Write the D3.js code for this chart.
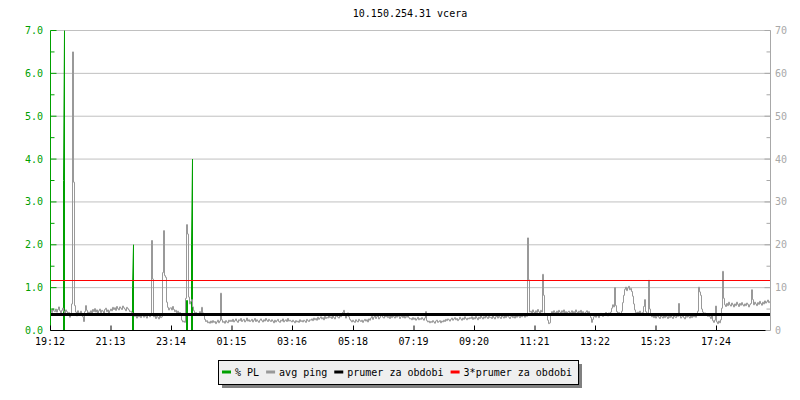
<!DOCTYPE html>
<html><head><meta charset="utf-8">
<script src="https://cdn.jsdelivr.net/npm/d3@7"></script>
<style>
body{margin:0;background:#fff}
svg{display:block}
text{font-family:"DejaVu Sans Mono","Liberation Mono",monospace;font-size:10px}
</style>
</head><body>
<svg id="chart" width="800" height="400"></svg>
<script>
// ---------- data ----------
const chartTitle = "10.150.254.31 vcera";
const startTime = "19:12";           // first sample
const spanMinutes = 1440;            // 24 h window
const sampleStepMin = 2;             // one ping sample every 2 minutes
// avg ping (ms) — right axis
const pingValues = [
4.8,4.2,5.1,4.6,4.4,5.0,4.3,4.9,5.5,4.6,4.1,4.7,5.2,4.5,3.9,4.8,4.4,3.6,4.2,3.1,
4.0,6.2,65.0,34.6,5.8,4.3,3.4,4.6,4.1,3.8,4.5,4.0,3.2,2.1,4.4,5.8,4.7,3.9,4.3,4.1,
4.6,3.7,4.9,4.4,5.1,4.3,4.8,3.9,4.6,5.0,4.2,4.7,4.5,3.8,4.9,5.2,4.4,4.8,4.1,4.6,
5.0,4.6,5.4,4.9,5.3,4.7,5.6,5.1,4.8,5.5,5.2,4.9,5.7,5.3,5.0,4.6,5.4,5.1,4.8,4.4,
4.5,4.2,3.6,4.0,3.3,3.8,2.9,3.5,3.2,3.7,3.0,3.4,3.9,3.1,3.6,3.3,2.9,3.5,3.8,3.2,
3.5,21.0,12.0,3.2,3.6,2.8,3.3,3.1,2.7,3.5,3.0,3.2,13.5,23.3,12.8,12.4,6.6,5.4,4.8,5.2,
5.3,4.8,5.6,4.9,4.4,4.7,4.1,4.5,3.8,4.2,3.6,2.4,2.0,2.2,1.9,7.5,24.7,22.5,7.8,6.2,
6.8,7.2,5.5,4.6,3.9,4.2,3.6,4.0,3.8,4.4,3.9,5.4,4.1,3.5,2.6,2.1,2.3,1.8,2.0,1.7,
2.2,1.8,2.3,1.9,2.1,1.6,2.0,2.4,1.8,2.2,8.7,2.5,1.9,2.1,1.7,2.3,2.0,1.8,2.4,2.1,
2.4,2.1,2.6,2.0,2.3,2.7,2.2,1.9,2.5,2.3,2.8,2.1,2.4,2.6,2.0,2.3,2.9,2.2,2.5,2.1,
2.3,2.6,2.0,2.4,2.8,2.1,2.5,2.2,1.9,2.4,2.7,2.3,2.0,2.5,2.2,2.8,2.4,2.1,2.6,2.3,
2.1,2.5,2.2,1.8,2.4,2.0,2.3,2.6,2.1,1.9,2.4,2.2,2.7,2.0,2.3,2.5,2.1,2.8,2.2,2.4,
2.2,2.0,2.4,2.1,1.8,2.3,2.0,2.2,1.9,2.5,2.1,2.3,2.0,2.4,2.2,1.9,2.6,2.3,2.1,2.5,
2.4,2.7,2.3,2.9,2.5,2.8,2.4,3.1,2.6,2.9,3.2,2.7,3.0,2.5,3.3,2.8,3.1,2.9,3.4,3.0,
3.2,2.8,3.5,3.0,2.7,3.3,3.6,3.1,2.9,3.4,3.2,3.8,4.2,4.7,3.6,2.9,3.4,4.1,3.2,2.6,
2.3,2.0,2.4,2.1,1.9,2.5,2.2,2.0,2.6,2.3,2.1,2.4,1.9,2.3,2.6,2.2,2.5,2.0,2.7,2.4,
2.9,3.3,2.6,3.1,3.6,2.8,3.2,3.5,2.7,3.0,3.4,3.8,3.1,2.9,3.5,3.2,3.7,3.0,3.3,2.8,
3.4,3.0,3.6,3.2,2.9,3.5,3.1,3.7,3.3,2.8,3.2,3.6,3.0,3.4,2.9,3.3,3.1,3.5,3.0,2.7,
2.8,2.5,3.0,2.6,2.9,2.4,2.7,3.1,2.5,2.8,2.6,3.0,2.7,2.4,2.9,4.4,2.3,2.0,2.2,1.8,
2.1,1.9,2.3,2.0,1.7,2.2,2.4,1.9,2.1,2.3,1.8,2.2,2.0,2.4,2.1,2.6,2.3,2.7,2.5,2.2,
2.6,2.9,2.4,2.7,3.0,2.5,2.8,2.3,2.6,3.1,2.7,2.4,2.9,2.6,3.2,2.8,2.5,2.9,2.7,3.0,
2.8,3.2,2.6,3.0,2.7,3.3,2.9,2.5,3.1,2.8,3.4,3.0,2.7,3.2,2.9,3.5,3.1,2.8,3.3,3.0,
3.1,2.8,3.4,3.0,2.7,3.2,3.5,2.9,3.3,3.1,2.8,3.6,3.2,2.9,3.4,3.0,3.7,3.3,3.1,2.8,
3.2,3.5,3.0,3.3,2.9,3.4,3.1,3.6,3.3,3.0,3.5,3.2,3.8,3.4,3.1,3.6,3.3,21.6,11.8,4.3,
4.5,4.1,4.8,4.3,3.9,4.6,4.2,4.9,4.4,4.0,4.7,4.3,13.1,8.2,4.0,3.6,3.9,2.4,1.6,1.8,
3.9,4.4,4.0,4.6,4.2,3.8,4.5,4.1,4.7,4.3,3.9,4.6,4.2,4.8,4.0,4.4,3.7,4.3,4.5,4.1,
4.2,4.6,3.9,4.4,4.1,4.8,4.3,3.8,4.5,4.2,4.7,4.0,4.4,4.1,3.7,4.3,4.6,4.0,4.4,3.9,
3.0,1.9,2.6,3.2,3.5,3.1,3.8,3.4,3.0,3.6,4.0,3.7,3.3,3.9,3.5,4.2,3.8,3.4,4.1,3.7,
4.3,5.2,6.0,5.5,10.0,5.8,4.4,3.9,4.2,3.7,4.0,4.5,6.5,8.2,9.6,10.1,9.3,9.9,10.3,9.5,
9.8,9.1,8.0,6.2,4.8,4.2,3.7,4.3,3.9,4.5,4.1,3.8,4.2,5.6,7.2,4.4,3.9,4.1,11.7,5.0,
3.6,3.2,3.8,3.0,3.4,2.9,3.3,3.7,3.1,2.8,3.5,3.2,2.9,3.4,3.0,3.6,3.2,2.8,3.3,3.0,
3.4,3.1,2.8,3.5,3.2,3.0,3.6,3.3,6.3,3.4,2.9,3.2,3.5,3.0,2.7,3.3,3.1,3.6,3.2,2.9,
3.4,3.0,3.6,3.2,3.5,3.1,3.8,4.5,10.1,9.0,8.2,5.0,4.3,3.8,4.1,3.6,3.9,3.3,3.7,3.2,
2.8,3.4,2.3,1.9,2.4,5.7,2.0,1.6,2.2,1.8,2.5,5.2,13.8,7.5,6.0,5.6,6.3,5.8,6.6,6.0,
5.7,6.4,6.0,5.5,6.2,5.8,6.6,6.1,5.6,6.3,5.9,6.5,6.0,5.7,6.2,5.8,6.4,6.1,5.5,6.0,
6.3,9.5,7.2,6.0,6.6,6.2,5.8,6.5,6.1,6.8,6.3,5.9,6.6,6.2,6.9,6.4,6.7,7.1,6.5,6.8
];
// % packet loss (left axis) — non-zero samples only
const plTimes  = ["19:38","19:40","21:56","21:58","23:44","23:46","23:54","23:56"];
const plValues = [3.5, 7.0, 1.0, 2.0, 0.7, 0.7, 2.0, 4.0];
const avgPing = 3.73;        // prumer za obdobi (ms)
const tripleAvgPing = 11.65; // 3*prumer za obdobi (ms)
const leftTicks = [0,1,2,3,4,5,6,7];
const leftMinorTicks = [0.5,1.5,2.5,3.5,4.5,5.5,6.5];
const rightTicks = [0,10,20,30,40,50,60,70];
const rightMinorTicks = [5,15,25,35,45,55,65];
const timeTickLabels = ["19:12","21:13","23:14","01:15","03:16","05:18","07:19","09:20","11:21","13:22","15:23","17:24"];
const legendLabels = ["% PL","avg ping","prumer za obdobi","3*prumer za obdobi"];
const legendColors = ["#00a000","#999999","#000000","#ff0000"];

// ---------- helpers ----------
const base = new Date(2020,0,1,0,0);
const [sh, sm] = startTime.split(":").map(Number);
const startMin = sh*60+sm;
function toDate(hhmm){
  const [h,m] = hhmm.split(":").map(Number);
  let mm = h*60+m;
  if (mm < startMin) mm += 1440;
  return new Date(base.getTime() + mm*60000);
}
const t0 = toDate(startTime);
const t1 = new Date(t0.getTime() + spanMinutes*60000);

const L = 50, R = 770, T = 30, B = 330;
const svg = d3.select("#chart");
const g = svg.append("g").attr("transform","translate(0.5,0.5)");

const x = d3.scaleTime().domain([t0,t1]).range([L,R]);
const yL = d3.scaleLinear().domain([0,7]).range([B,T]);
const yR = d3.scaleLinear().domain([0,70]).range([B,T]);

const green = legendColors[0], grey = legendColors[1], axisGrey = "#a8a8a8";

// title
svg.append("text").attr("x",410).attr("y",17).attr("text-anchor","middle")
  .attr("fill","#000").text(chartTitle);

// grid
g.selectAll(".grid").data(leftTicks.filter(d=>d>0)).join("line")
  .attr("x1",L).attr("x2",R).attr("y1",d=>yL(d)).attr("y2",d=>yL(d))
  .attr("stroke","#c0c0c0").attr("stroke-width",1);

// clip
svg.append("defs").append("clipPath").attr("id","clip")
  .append("rect").attr("x",L).attr("y",T).attr("width",R-L+1).attr("height",B-T+1);
const plot = g.append("g").attr("clip-path","url(#clip)");

// % PL
const plDates = plTimes.map(toDate);
const groups = [];
plDates.forEach((d,i)=>{
  const last = groups[groups.length-1];
  if (last && d - last[last.length-1].t <= sampleStepMin*60000) last.push({t:d,v:plValues[i]});
  else groups.push([{t:d,v:plValues[i]}]);
});
const plLine = d3.line().x(d=>x(d.t)).y(d=>yL(d.v));
groups.forEach(gr=>{
  const pts = [{t:gr[0].t,v:0}, ...gr, {t:gr[gr.length-1].t,v:0}];
  plot.append("path").attr("d",plLine(pts)).attr("fill","none")
    .attr("stroke",green).attr("stroke-width",1);
});

// avg ping
const pingData = pingValues.map((v,i)=>({t:new Date(t0.getTime()+i*sampleStepMin*60000), v}));
plot.append("path")
  .attr("d", d3.line().curve(d3.curveStepAfter).x(d=>x(d.t)).y(d=>yR(d.v))(pingData))
  .attr("fill","none").attr("stroke",grey).attr("stroke-width",1);

// mean lines
const yAvg = Math.round(yR(avgPing)), yTri = Math.round(yR(tripleAvgPing));
plot.append("line").attr("x1",L).attr("x2",R).attr("y1",yAvg).attr("y2",yAvg)
  .attr("stroke","#000").attr("stroke-width",3);
plot.append("line").attr("x1",L).attr("x2",R).attr("y1",yTri).attr("y2",yTri)
  .attr("stroke","#ff0000").attr("stroke-width",1);

// left axis
g.append("line").attr("x1",L).attr("x2",L).attr("y1",T).attr("y2",B).attr("stroke",green);
g.selectAll(".lt").data(leftTicks).join("line")
  .attr("x1",L).attr("x2",L+6).attr("y1",d=>yL(d)).attr("y2",d=>yL(d)).attr("stroke",green);
g.selectAll(".lmt").data(leftMinorTicks).join("line")
  .attr("x1",L).attr("x2",L+4).attr("y1",d=>yL(d)).attr("y2",d=>yL(d)).attr("stroke",green);
svg.selectAll(".ll").data(leftTicks).join("text")
  .attr("x",43).attr("y",d=>yL(d)+4).attr("text-anchor","end").attr("fill",green)
  .text(d=>d3.format(".1f")(d));

// right axis
g.append("line").attr("x1",R).attr("x2",R).attr("y1",T).attr("y2",B).attr("stroke",axisGrey);
g.selectAll(".rt").data(rightTicks).join("line")
  .attr("x1",R-6).attr("x2",R).attr("y1",d=>yR(d)).attr("y2",d=>yR(d)).attr("stroke",axisGrey);
g.selectAll(".rmt").data(rightMinorTicks).join("line")
  .attr("x1",R-4).attr("x2",R).attr("y1",d=>yR(d)).attr("y2",d=>yR(d)).attr("stroke",axisGrey);
svg.selectAll(".rl").data(rightTicks).join("text")
  .attr("x",775).attr("y",d=>yR(d)+4).attr("fill",axisGrey).text(d=>d);

// bottom axis
g.append("line").attr("x1",L).attr("x2",R-5).attr("y1",B).attr("y2",B).attr("stroke","#000");
const tickDates = timeTickLabels.map(toDate);
g.selectAll(".xt").data(tickDates).join("line")
  .attr("x1",d=>x(d)).attr("x2",d=>x(d)).attr("y1",B-5).attr("y2",B).attr("stroke","#000");
svg.selectAll(".xl").data(timeTickLabels).join("text")
  .attr("x",d=>x(toDate(d))).attr("y",345).attr("text-anchor","middle").attr("fill","#000")
  .text(d=>d);

// legend
const lg = svg.append("g");
const box = {x:218, y:360, w:360, h:24};
lg.append("rect").attr("x",box.x+4).attr("y",box.y+4).attr("width",box.w).attr("height",box.h).attr("fill","#808080");
lg.append("rect").attr("x",box.x+0.5).attr("y",box.y+0.5).attr("width",box.w).attr("height",box.h)
  .attr("fill","#efefef").attr("stroke","#000").attr("stroke-width",1);
let cx = 222;
legendLabels.forEach((lab,i)=>{
  lg.append("line").attr("x1",cx).attr("x2",cx+9).attr("y1",372).attr("y2",372)
    .attr("stroke",legendColors[i]).attr("stroke-width",3);
  const t = lg.append("text").attr("x",cx+13).attr("y",376).attr("fill","#000").text(lab);
  cx += 13 + t.node().getComputedTextLength() + 7;
});
</script>
</body></html>
